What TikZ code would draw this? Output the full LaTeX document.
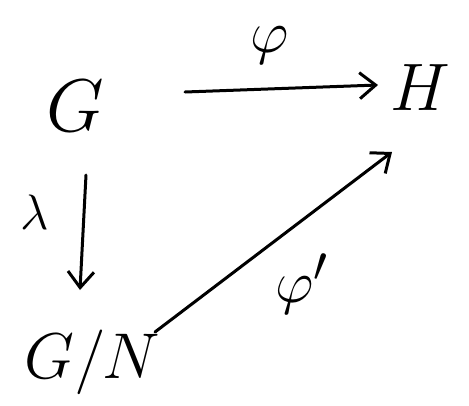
\documentclass[tikz,border=0pt]{standalone}
\usepackage{graphicx}
\usetikzlibrary{arrows.meta}
\newcommand{\bigobj}[1]{\scalebox{3.0}{\Huge$#1$}}
\newcommand{\biglbl}[1]{\scalebox{2.4}{\Huge$#1$}}
\begin{document}
\begin{tikzpicture}[x=1pt,y=-1pt,
  obj/.style={inner sep=0pt},
  arr/.style={line width=3pt,line cap=round,-{Straight Barb[length=16pt,width=26pt,line width=3pt]}}]
\useasboundingbox (0,0) rectangle (469,405);
\node[obj] (G) at (75,106) {\bigobj{G}};
\node[obj] (H) at (420,88) {\scalebox{2.7}{\Huge$H$}};
\node[obj] (GN) at (92,362) {\scalebox{2.6}{\Huge$G/N$}};
\node[obj] (phi) at (270,45) {\biglbl{\varphi}};
\node[obj] (lam) at (35,212) {\scalebox{2.0}{\Huge$\lambda$}};
\node[obj] (phip) at (302,284) {\biglbl{\varphi'}};
\draw[arr] ([shift={(110,-14)}]G.center) -- ([shift={(-42,-3)}]H.center);
\draw[arr] ([shift={(11,69)}]G.center) -- ([shift={(-12,-72)}]GN.center);
\draw[arr] ([shift={(63,-30)}]GN.center) -- ([shift={(-28,64)}]H.center);
\end{tikzpicture}
\end{document}
